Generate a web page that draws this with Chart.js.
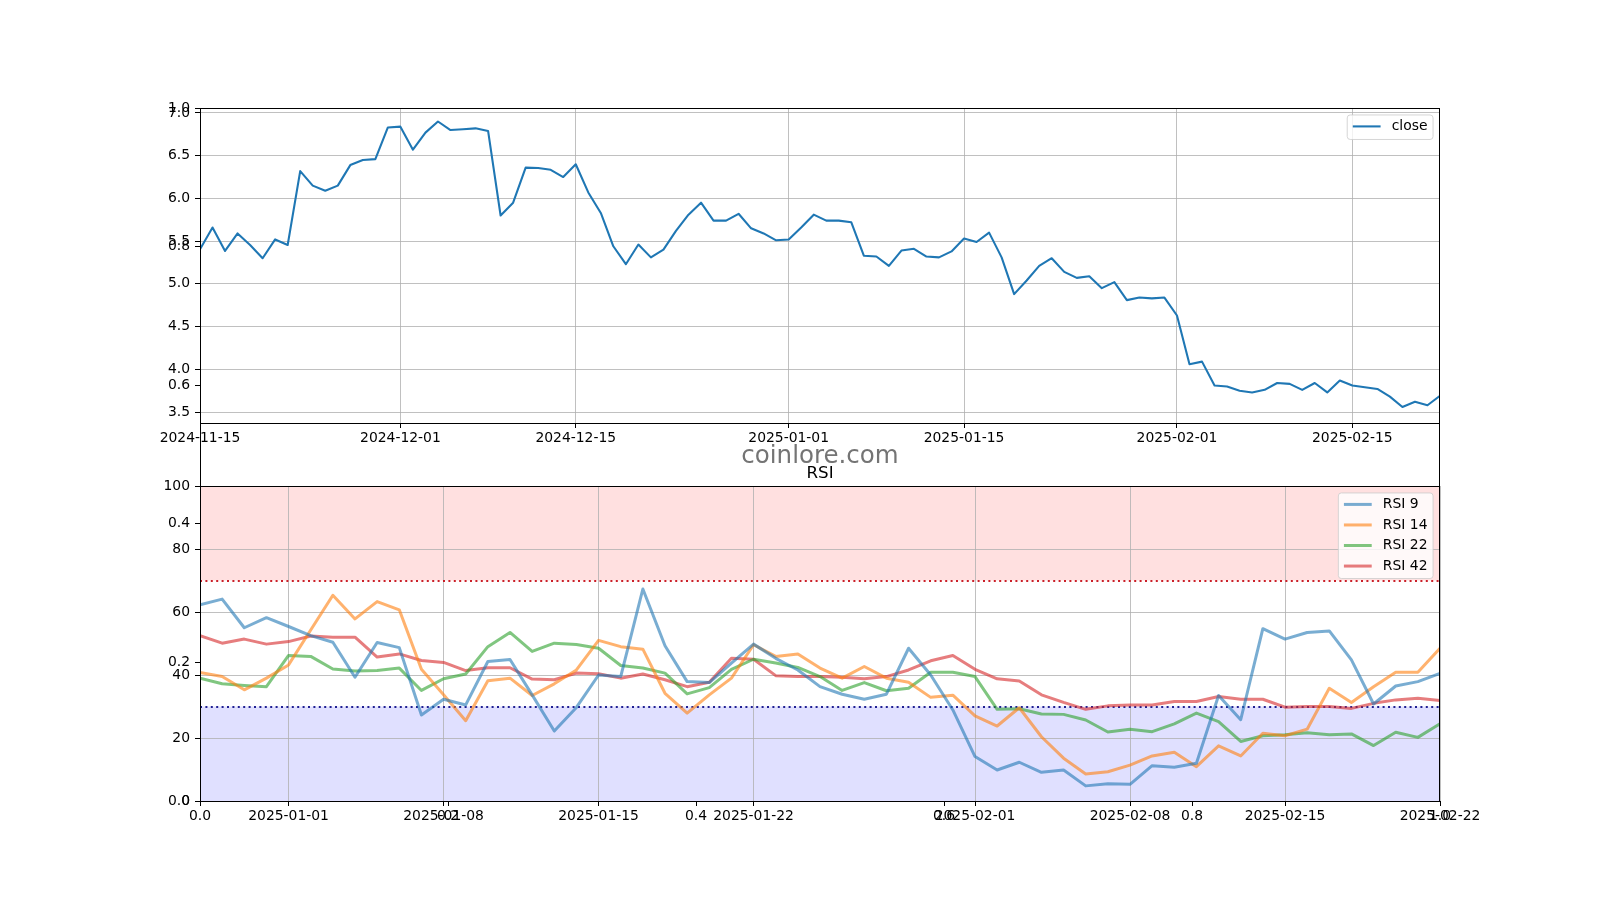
<!DOCTYPE html>
<html><head><meta charset="utf-8">
<script src="https://cdn.jsdelivr.net/npm/chart.js@4.4.1/dist/chart.umd.min.js"></script>
<style>
html,body{margin:0;padding:0;background:#fff;}
#wrap{position:relative;width:1600px;height:900px;background:#fff;}
canvas{position:absolute;left:0;top:0;}
</style></head><body>
<div id="wrap">
<canvas id="bg" width="1600" height="900"></canvas>
<canvas id="price" width="1600" height="900"></canvas>
<canvas id="rsi" width="1600" height="900"></canvas>
</div>
<script>
// ---------- DATA ----------
const priceStart = '2024-11-15';
const closeValues = [
 5.405,5.66,5.385,5.59,5.455,5.30,5.52,5.455,6.32,6.15,
 6.09,6.15,6.39,6.45,6.46,6.83,6.84,6.57,6.77,6.90,
 6.80,6.81,6.82,6.79,5.80,5.95,6.36,6.355,6.335,6.25,
 6.40,6.07,5.83,5.44,5.23,5.46,5.31,5.40,5.62,5.81,
 5.95,5.74,5.74,5.82,5.65,5.59,5.51,5.52,5.66,5.81,
 5.74,5.74,5.72,5.33,5.32,5.21,5.39,5.41,5.32,5.31,
 5.38,5.53,5.49,5.60,5.31,4.88,5.04,5.21,5.30,5.14,
 5.07,5.09,4.95,5.02,4.81,4.84,4.83,4.84,4.63,4.06,
 4.09,3.81,3.80,3.75,3.73,3.76,3.84,3.83,3.76,3.84,
 3.73,3.87,3.81,3.79,3.77,3.68,3.56,3.62,3.58,3.69];
const priceTickLabels = ['2024-11-15','2024-12-01','2024-12-15','2025-01-01','2025-01-15','2025-02-01','2025-02-15'];
const priceYTicks = [3.5,4.0,4.5,5.0,5.5,6.0,6.5,7.0];

const rsiStart = '2024-12-28';
const rsi9 = [62.3,64.1,55.0,58.2,55.4,52.5,50.4,39.3,50.3,48.7,
 27.3,32.3,30.5,44.3,44.9,33.7,22.2,29.7,40.0,39.5,
 67.3,49.3,37.9,37.6,43.8,49.8,45.3,41.6,36.3,33.9,
 32.3,33.9,48.5,40.0,28.9,14.1,9.85,12.3,9.1,9.85,
 4.8,5.5,5.3,11.2,10.7,12.0,33.5,25.8,54.7,51.4,
 53.5,54.0,44.8,30.8,36.5,37.9,40.5];
const rsi14 = [40.8,39.5,35.3,39.0,43.2,54.3,65.3,57.8,63.3,60.7,
 41.8,33.7,25.5,38.2,39.0,33.5,37.2,41.6,51.0,49.0,
 48.2,34.2,27.9,33.7,39.0,49.6,45.9,46.7,42.2,39.0,
 42.7,39.0,37.7,32.9,33.6,27.0,23.8,29.6,20.4,13.6,
 8.6,9.3,11.4,14.3,15.5,10.9,17.5,14.3,21.5,20.7,
 22.8,35.8,31.3,36.3,40.9,40.9,48.5];
const rsi22 = [39.0,37.2,36.7,36.3,46.2,45.9,41.9,41.3,41.4,42.2,
 35.1,38.8,40.3,49.0,53.5,47.5,50.1,49.7,48.5,43.0,
 42.2,40.6,34.0,36.0,41.8,45.0,43.8,42.4,39.5,35.1,
 37.6,35.0,35.8,40.9,40.9,39.5,29.1,29.3,27.6,27.5,
 25.7,21.9,22.8,22.0,24.5,27.9,25.2,18.9,20.7,21.0,
 21.7,21.0,21.3,17.6,21.8,20.2,24.5];
const rsi42 = [52.5,50.1,51.4,49.8,50.6,52.4,52.0,52.0,45.7,46.7,
 44.6,44.0,41.4,42.3,42.3,38.7,38.5,40.6,40.4,39.0,
 40.3,38.5,36.3,37.7,45.3,45.0,39.8,39.5,39.5,39.3,
 38.8,39.5,41.6,44.5,46.2,41.8,38.8,38.1,33.7,31.3,
 29.1,30.2,30.5,30.5,31.6,31.6,33.2,32.3,32.3,29.8,
 30.0,30.0,29.4,31.0,32.1,32.6,31.9];
const rsiTickLabels = ['2025-01-01','2025-01-08','2025-01-15','2025-01-22','2025-02-01','2025-02-08','2025-02-15','2025-02-22'];
const rsiYTicks = [0,20,40,60,80,100];
const rsiOverbought = 70, rsiOversold = 30;
const bgTicks = [0.0,0.2,0.4,0.6,0.8,1.0];

// ---------- HELPERS ----------
function dayList(start, n){
  const p = start.split('-').map(Number);
  const t0 = Date.UTC(p[0], p[1]-1, p[2]);
  const out = [];
  for (let i=0;i<n;i++) out.push(new Date(t0 + i*86400000).toISOString().slice(0,10));
  return out;
}
const priceDates = dayList(priceStart, closeValues.length);
const rsiDates = dayList(rsiStart, rsi9.length);

const FONT = {family: "'DejaVu Sans', sans-serif", size: 13.9};
const FS = 13.9;

function gridCfg(onArea){
  return {display:true, drawOnChartArea:onArea, color:'#b0b0b0', lineWidth:0.8,
          drawTicks:true, tickLength:5, tickColor:'#000', tickWidth:1};
}
const borderCfg = {display:false};

function xAxis(min, max, vals, labels, onArea){
  return {type:'linear', position:'bottom', min, max,
    afterBuildTicks: s => { s.ticks = vals.map(v => ({value:v})); },
    afterFit: s => { s.height = 30; },
    ticks:{autoSkip:false, maxRotation:0, minRotation:0, color:'#000', font:FONT, padding:2,
           callback:(v,i) => labels[i]},
    grid:gridCfg(onArea), border:borderCfg};
}
function yAxis(min, max, vals, labels, onArea){
  return {type:'linear', position:'left', min, max,
    afterBuildTicks: s => { s.ticks = vals.map(v => ({value:v})); },
    afterFit: s => { s.width = 60; },
    ticks:{color:'#000', font:FONT, padding:5, callback:(v,i) => labels[i]},
    grid:gridCfg(onArea), border:borderCfg};
}

const framePlugin = {id:'frame', afterDatasetsDraw(chart){
  const a = chart.chartArea, ctx = chart.ctx;
  ctx.save(); ctx.strokeStyle='#000'; ctx.lineWidth=1;
  const l=Math.round(a.left)+0.5, t=Math.round(a.top)+0.5, r=Math.round(a.right)-0.5, b=Math.round(a.bottom)+0.5;
  ctx.strokeRect(l, t, r-l, b-t);
  ctx.restore();
}};

function legendPlugin(items){
  return {id:'mlegend', afterDraw(chart){
    const ctx = chart.ctx, a = chart.chartArea;
    ctx.save();
    ctx.font = FS + "px 'DejaVu Sans', sans-serif";
    const tw = Math.max(...items.map(it => ctx.measureText(it.label).width));
    const pad = 0.4*FS, hl = 2*FS, htp = 0.8*FS, ih = 13.4, sp = 0.5*FS;
    const w = pad + hl + htp + tw + pad;
    const h = 2*pad + items.length*ih + (items.length-1)*sp;
    const x = a.right - 0.5*FS - w, y = a.top + 0.5*FS;
    ctx.beginPath();
    ctx.roundRect(x, y, w, h, 3);
    ctx.fillStyle = 'rgba(255,255,255,0.8)'; ctx.fill();
    ctx.strokeStyle = 'rgba(204,204,204,0.8)'; ctx.lineWidth = 1; ctx.stroke();
    items.forEach((it, i) => {
      const cy = y + pad + 5.9 + i*(ih+sp+0.2);
      ctx.beginPath(); ctx.strokeStyle = it.color; ctx.lineWidth = it.width; ctx.lineCap='butt';
      ctx.moveTo(x+pad, cy); ctx.lineTo(x+pad+hl, cy); ctx.stroke();
      ctx.fillStyle = '#000'; ctx.textBaseline = 'middle'; ctx.textAlign = 'left';
      ctx.fillText(it.label, x+pad+hl+htp, cy);
    });
    ctx.restore();
  }};
}

const baseOpts = {responsive:false, animation:false, devicePixelRatio:1, events:[],
  plugins:{legend:{display:false}, tooltip:{enabled:false}, title:{display:false}}};

// ---------- BACKGROUND AXES (0..1) ----------
const bgLabels = bgTicks.map(v => v.toFixed(1));
const textPlugin = {id:'texts', afterDraw(chart){
  const ctx = chart.ctx, a = chart.chartArea;
  const cx = (a.left + a.right)/2;
  ctx.save();
  ctx.textAlign = 'center'; ctx.textBaseline = 'alphabetic';
  ctx.fillStyle = '#000';
  ctx.font = "16.7px 'DejaVu Sans', sans-serif";
  ctx.fillText('RSI', cx, 478);
  ctx.restore();
}};
new Chart(document.getElementById('bg'), {
  type:'line',
  data:{datasets:[]},
  options:Object.assign({}, baseOpts, {
    layout:{padding:{left:140, right:160, top:108, bottom:69}},
    scales:{x:xAxis(0,1,bgTicks,bgLabels,false), y:yAxis(0,1,bgTicks,bgLabels,false)}
  }),
  plugins:[framePlugin, textPlugin]
});

// ---------- PRICE ----------
const priceTickIdx = priceTickLabels.map(d => priceDates.indexOf(d));
const watermarkPlugin = {id:'watermark', afterDraw(chart){
  const ctx = chart.ctx;
  ctx.save();
  ctx.textAlign = 'center'; ctx.textBaseline = 'alphabetic';
  ctx.fillStyle = 'rgba(70,70,70,0.75)';
  ctx.font = "24.5px 'DejaVu Sans', sans-serif";
  ctx.fillText('coinlore.com', 820, 462.5);
  ctx.restore();
}};
new Chart(document.getElementById('price'), {
  type:'line',
  data:{datasets:[{label:'close', data:closeValues.map((v,i)=>({x:i,y:v})),
    borderColor:'#1f77b4', borderWidth:2.08, pointRadius:0, tension:0, borderJoinStyle:'round', fill:false}]},
  options:Object.assign({}, baseOpts, {
    layout:{padding:{left:140, right:160, top:108, bottom:447}},
    scales:{
      x:xAxis(0, closeValues.length-1, priceTickIdx, priceTickLabels, true),
      y:yAxis(3.372, 7.058, priceYTicks, priceYTicks.map(v=>v.toFixed(1)), true)
    }
  }),
  plugins:[framePlugin, legendPlugin([{label:'close', color:'#1f77b4', width:2.08}]), watermarkPlugin]
});

// ---------- RSI ----------
const rsiTickIdx = rsiTickLabels.map(d => rsiDates.indexOf(d));
const zonePlugin = {id:'zones',
  beforeDraw(chart){
    const ctx = chart.ctx, a = chart.chartArea, y = chart.scales.y;
    ctx.save();
    ctx.fillStyle = 'rgba(255,0,0,0.12)';
    ctx.fillRect(a.left, y.getPixelForValue(100), a.right-a.left, y.getPixelForValue(rsiOverbought)-y.getPixelForValue(100));
    ctx.fillStyle = 'rgba(0,0,255,0.12)';
    ctx.fillRect(a.left, y.getPixelForValue(rsiOversold), a.right-a.left, y.getPixelForValue(0)-y.getPixelForValue(rsiOversold));
    ctx.restore();
  },
  beforeDatasetsDraw(chart){
    const ctx = chart.ctx, a = chart.chartArea, y = chart.scales.y;
    ctx.save(); ctx.lineWidth = 2; ctx.setLineDash([2,3.4]);
    [[rsiOverbought,'rgba(200,20,30,0.95)'],[rsiOversold,'rgba(20,20,140,0.95)']].forEach(([v,c])=>{
      const py = Math.round(y.getPixelForValue(v));
      ctx.beginPath(); ctx.strokeStyle = c;
      ctx.moveTo(a.left, py); ctx.lineTo(a.right, py); ctx.stroke();
    });
    ctx.restore();
  }
};
const rsiSeries = [
  {label:'RSI 9', data:rsi9, color:'rgba(31,119,180,0.6)'},
  {label:'RSI 14', data:rsi14, color:'rgba(255,127,14,0.6)'},
  {label:'RSI 22', data:rsi22, color:'rgba(44,160,44,0.6)'},
  {label:'RSI 42', data:rsi42, color:'rgba(214,39,40,0.6)'}
];
new Chart(document.getElementById('rsi'), {
  type:'line',
  data:{datasets:rsiSeries.map(s => ({label:s.label, data:s.data.map((v,i)=>({x:i,y:v})),
    borderColor:s.color, borderWidth:3, pointRadius:0, tension:0, borderJoinStyle:'round', fill:false}))},
  options:Object.assign({}, baseOpts, {
    layout:{padding:{left:140, right:160, top:486, bottom:69}},
    scales:{
      x:xAxis(0, rsi9.length-1, rsiTickIdx, rsiTickLabels, true),
      y:yAxis(0, 100, rsiYTicks, rsiYTicks.map(String), true)
    }
  }),
  plugins:[zonePlugin, framePlugin, legendPlugin(rsiSeries.map(s=>({label:s.label, color:s.color, width:3})))]
});
</script>
</body></html>
